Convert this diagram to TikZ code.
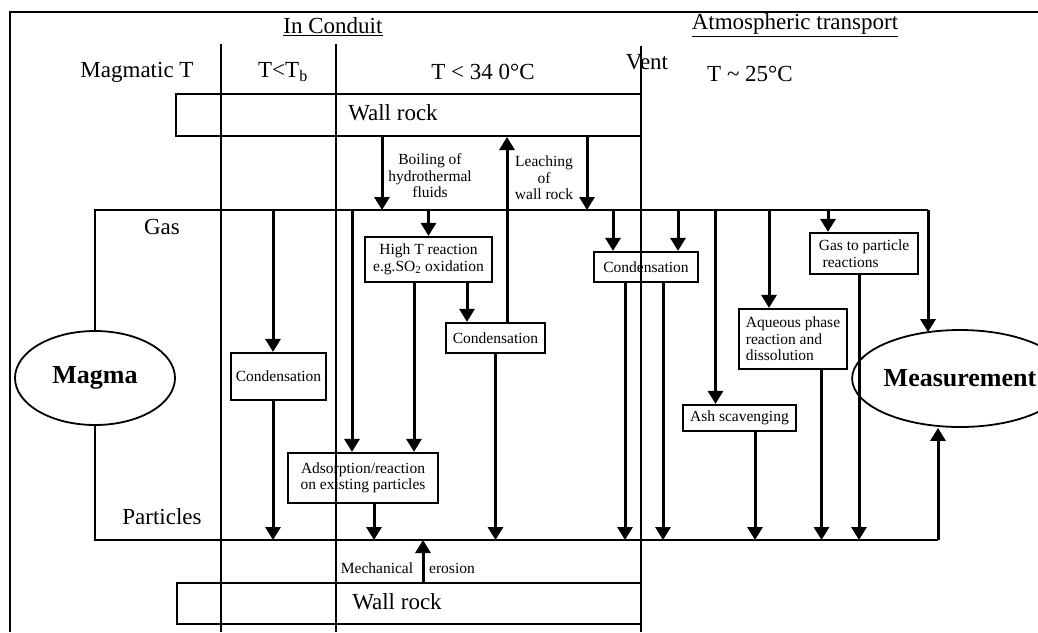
\documentclass[tikz,border=0pt]{standalone}
\usepackage{fontspec}
\setmainfont{Liberation Serif}
\usetikzlibrary{arrows.meta, shapes.geometric}

\begin{document}
\begin{tikzpicture}[x=1pt, y=-1pt,
  big/.style={font=\fontsize{23}{26}\selectfont, inner sep=0pt},
  small/.style={font=\fontsize{15.5}{16.5}\selectfont, inner sep=0pt, align=center},
  proc/.style={draw, line width=2.2pt, font=\fontsize{15.5}{16.5}\selectfont, inner sep=0pt, align=center},
  rock/.style={draw, line width=2pt, inner sep=0pt},
  blob/.style={draw, ellipse, line width=1.8pt, inner sep=0pt, font=\fontsize{26}{28}\selectfont\bfseries},
  divider/.style={line width=2pt},
  route/.style={line width=2pt},
  flow/.style={line width=3pt, -{Triangle[width=15pt,length=13pt]}}]
  \useasboundingbox (0,0) rectangle (1038,632);
  \draw[divider] (1038,12) -- (10,12) -- (10,632);
  \foreach \x in {221,336} \draw[divider] (\x,44) -- (\x,632);
  \draw[divider] (641,46) -- (641,632);
  \node[big] (conduit) at (333,27) {\underline{In Conduit}};
  \node[big] (atmo) at (795,25) {\underline{Atmospheric transport}};
  \node[big] (magT) at (137,72) {Magmatic T};
  \node[big] (lowT) at (283,72) {T<T\textsubscript{b}};
  \node[big] (midT) at (483,72) {T < 34 0°C};
  \node[big] (vent) at (647,62) {Vent};
  \node[big] (atmT) at (750,74) {T \textasciitilde{} 25°C};
  \node[big] (gasLbl) at (162,227) {Gas};
  \node[big] (partLbl) at (162,517) {Particles};
  \node[rock, minimum width=465pt, minimum height=42pt] (rockT) at (408.5,115) {};
  \node[big] (rockTlbl) at (393,113) {Wall rock};
  \node[rock, minimum width=464pt, minimum height=41pt] (rockB) at (409,603.5) {};
  \node[big] (rockBlbl) at (397,602) {Wall rock};
  \node[blob, minimum width=160pt, minimum height=94pt] (magma) at (95,378) {Magma};
  \node[blob, minimum width=174pt, minimum height=97pt] (meas) at (960,378.5) {Measurement};
  \node[proc, minimum width=95pt, minimum height=47pt] (cond1) at (278.5,376.5) {Condensation};
  \node[proc, minimum width=127pt, minimum height=45pt] (hiT) at (428.5,259.5) {High T reaction\\e.g.SO\textsubscript{2} oxidation};
  \node[proc, minimum width=99pt, minimum height=30pt] (cond2) at (495.5,338) {Condensation};
  \node[proc, minimum width=150pt, minimum height=50pt] (ads) at (363,478) {Adsorption/reaction\\on existing particles};
  \node[proc, minimum width=104pt, minimum height=30pt] (cond3) at (646,267) {Condensation};
  \node[proc, minimum width=113pt, minimum height=26pt] (ash) at (739.5,418) {Ash scavenging};
  \node[proc, minimum width=108pt, minimum height=60pt, align=left] (aq) at (793,339) {Aqueous phase\\reaction and\\dissolution};
  \node[proc, minimum width=108pt, minimum height=41pt, align=left] (g2p) at (864,253.5) {Gas to particle\\\ reactions};
  \node[small] (boil) at (430,176) {Boiling of\\hydrothermal\\fluids};
  \node[small] (leach) at (544,178) {Leaching\\of\\wall rock};
  \node[small] (mech) at (377,568) {Mechanical};
  \node[small] (eros) at (452,568) {erosion};
  % gas and particle lines
  \coordinate (gasE) at (928,210);
  \coordinate (partE) at (938,540);
  \draw[route] (magma.north) |- (gasE);
  \draw[route] (magma.south) |- (partE);
  \draw[flow, shorten >=-3pt] (gasE) -- (gasE |- meas.north);
  \draw[flow] (partE) -- (partE |- meas.south);
  % arrow columns
  \foreach \name/\x in {boilX/382, leachX/587, upX/507, c1X/273, adsX/352, hadsX/414, hcX/467,
      adsoutX/374, erosX/423, c3aX/613, c3bX/678, c3cX/625, c3dX/663, ashinX/715.5, ashoutX/755,
      aqinX/769, aqoutX/821.5, gpinX/828, gpoutX/859}
    \coordinate (\name) at (\x,0);
  \draw[flow] (rockT.south -| boilX) -- (gasE -| boilX);
  \draw[flow] (rockT.south -| leachX) -- (gasE -| leachX);
  \draw[flow] (cond2.north -| upX) -- (rockT.south -| upX);
  \draw[flow] (gasE -| c1X) -- (cond1.north -| c1X);
  \draw[flow] (cond1.south -| c1X) -- (partE -| c1X);
  \draw[flow] (gasE -| adsX) -- (ads.north -| adsX);
  \draw[flow] (gasE -| hiT.north) -- (hiT.north);
  \draw[flow] (hiT.south -| hadsX) -- (ads.north -| hadsX);
  \draw[flow] (hiT.south -| hcX) -- (cond2.north -| hcX);
  \draw[flow] (cond2.south) -- (partE -| cond2.south);
  \draw[flow] (ads.south -| adsoutX) -- (partE -| adsoutX);
  \draw[flow] (rockB.north -| erosX) -- (partE -| erosX);
  \draw[flow] (gasE -| c3aX) -- (cond3.north -| c3aX);
  \draw[flow] (gasE -| c3bX) -- (cond3.north -| c3bX);
  \draw[flow] (cond3.south -| c3cX) -- (partE -| c3cX);
  \draw[flow] (cond3.south -| c3dX) -- (partE -| c3dX);
  \draw[flow] (gasE -| ashinX) -- (ash.north -| ashinX);
  \draw[flow] (ash.south -| ashoutX) -- (partE -| ashoutX);
  \draw[flow] (gasE -| aqinX) -- (aq.north -| aqinX);
  \draw[flow] (aq.south -| aqoutX) -- (partE -| aqoutX);
  \draw[flow] (gasE -| gpinX) -- (g2p.north -| gpinX);
  \draw[flow] (g2p.south -| gpoutX) -- (partE -| gpoutX);
\end{tikzpicture}
\end{document}
